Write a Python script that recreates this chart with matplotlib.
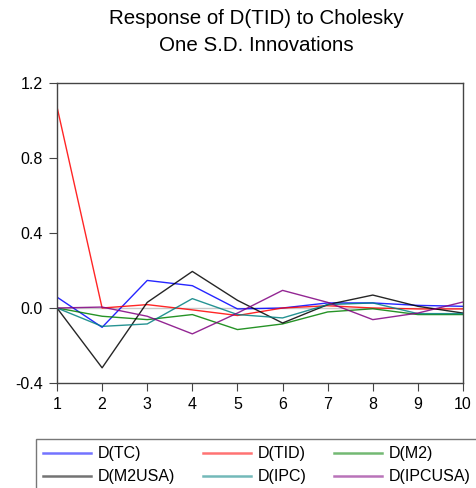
import matplotlib
matplotlib.use("Agg")
import matplotlib.pyplot as plt

plt.rcParams['font.family'] = ['Liberation Sans', 'DejaVu Sans']

periods = [1, 2, 3, 4, 5, 6, 7, 8, 9, 10]
d_tc = [0.058, -0.103, 0.147, 0.119, -0.005, 0.0, 0.027, 0.027, 0.014, 0.009]
d_tid = [1.073, 0.0, 0.018, -0.010, -0.040, 0.0, 0.012, 0.0, -0.005, -0.005]
d_m2 = [0.0, -0.044, -0.062, -0.035, -0.115, -0.085, -0.021, -0.004, -0.035, -0.035]
d_m2usa = [0.0, -0.319, 0.030, 0.195, 0.041, -0.080, 0.018, 0.069, 0.009, -0.027]
d_ipc = [0.0, -0.098, -0.085, 0.050, -0.035, -0.053, 0.018, 0.027, -0.030, -0.030]
d_ipcusa = [0.0, 0.005, -0.044, -0.138, -0.027, 0.094, 0.030, -0.062, -0.027, 0.032]
y_ticks = [-0.4, 0.0, 0.4, 0.8, 1.2]
y_tick_labels = ["-0.4", "0.0", "0.4", "0.8", "1.2"]

series = [
    ("D(TC)", d_tc, "#0000ff"),
    ("D(TID)", d_tid, "#ff0000"),
    ("D(M2)", d_m2, "#008000"),
    ("D(M2USA)", d_m2usa, "#000000"),
    ("D(IPC)", d_ipc, "#008080"),
    ("D(IPCUSA)", d_ipcusa, "#800080"),
]

fig = plt.figure(figsize=(4.77, 4.88), dpi=100)
ax = fig.add_axes([57/477, 1-383/488, (463-57)/477, (383-83)/488])
ax.axhline(0, color="#c8c8c8", lw=1.0, zorder=1)
handles = []
for name, vals, col in series:
    h, = ax.plot(periods, vals, color=col, lw=1.0, alpha=0.85, label=name, zorder=2)
    handles.append(h)

ax.set_xlim(1, 10)
ax.set_ylim(-0.4, 1.2)
ax.set_xticks(periods)
ax.set_yticks(y_ticks)
ax.set_yticklabels(y_tick_labels)
for s in ax.spines.values():
    s.set_color("#444444")
    s.set_linewidth(1.0)
ax.tick_params(direction="out", length=5.5, color="#444444", labelsize=11.5, pad=4.5)
ax.set_title("Response of D(TID) to Cholesky\nOne S.D. Innovations", fontsize=14.8,
             pad=23, linespacing=1.55, x=0.49)

# row-wise ordering: matplotlib fills legend columns first
order = [0, 3, 1, 4, 2, 5]
leg = fig.legend(handles=[handles[i] for i in order], loc="upper left",
                 bbox_to_anchor=(36/477, 1-439/488),
                 ncol=3, fontsize=11.5, frameon=True, fancybox=False, handlelength=3.0,
                 columnspacing=1.7, handletextpad=0.44, borderpad=0.45, labelspacing=0.5,
                 borderaxespad=0)
leg.get_frame().set_edgecolor("#555555")
leg.get_frame().set_linewidth(1.0)
for lh in leg.get_lines():
    lh.set_alpha(0.55)
    lh.set_linewidth(1.8)

fig.savefig("out.png", dpi=100)
